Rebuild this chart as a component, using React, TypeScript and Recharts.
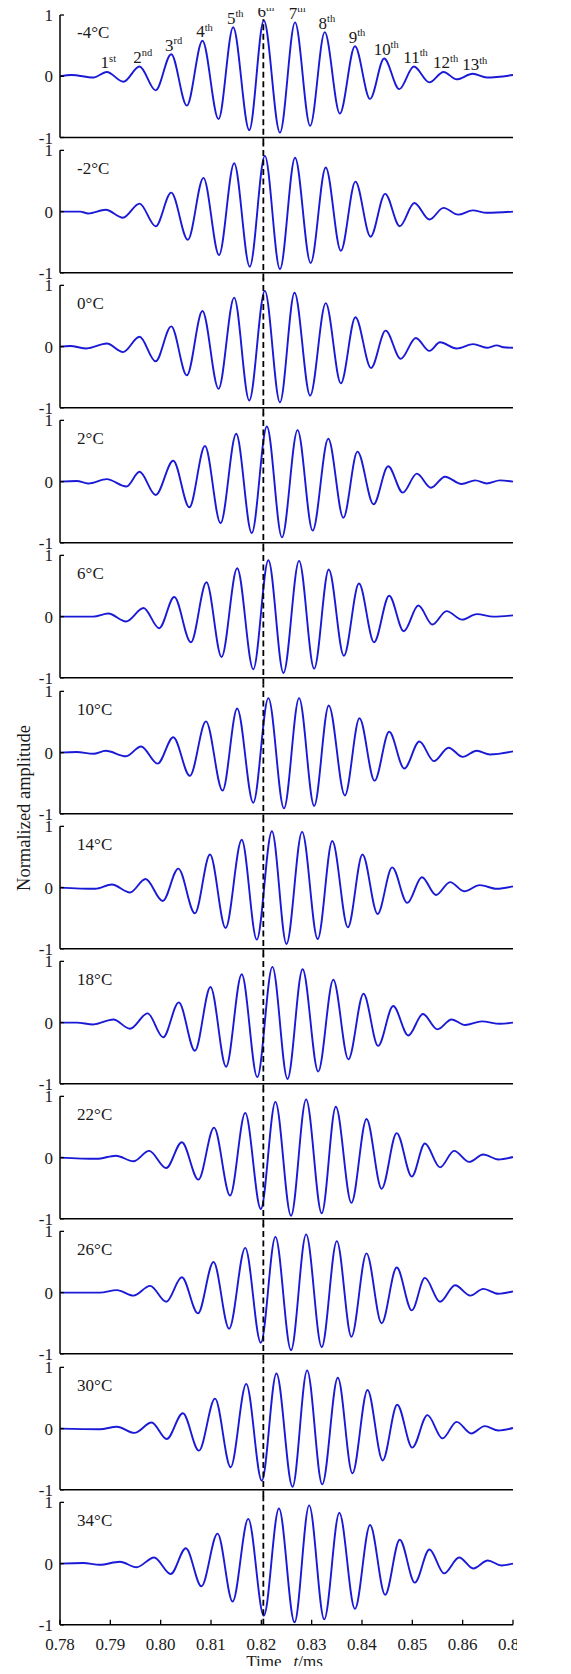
import { LineChart, Line, XAxis, YAxis, ReferenceLine, ReferenceDot, LabelList } from 'recharts';

const FONT = '"Liberation Serif", "Times New Roman", Times, serif';
const WAVE = '#1a1ad6';
const INK = '#1a1a1a';

const TEMPS = ['-4°C', '-2°C', '0°C', '2°C', '6°C', '10°C', '14°C', '18°C', '22°C', '26°C', '30°C', '34°C'];
const ORDINALS = ['1st', '2nd', '3rd', '4th', '5th', '6th', '7th', '8th', '9th', '10th', '11th', '12th', '13th'];
const X_TICKS = [0.78, 0.79, 0.8, 0.81, 0.82, 0.83, 0.84, 0.85, 0.86, 0.87];
const Y_TICKS = [-1, 0, 1];
const SHIFT_T = 0.8204; // dashed marker through the 6th peak at -4°C

// extrema of each trace (time in ms, normalized amplitude)
const T_M4 = [0.78, 0.7823, 0.7866, 0.7893, 0.7926, 0.7958, 0.799, 0.8021, 0.8052, 0.8083, 0.8115, 0.8144, 0.8176, 0.8205, 0.8237, 0.8267, 0.8297, 0.8326, 0.8356, 0.8386, 0.8416, 0.8444, 0.8474, 0.8503, 0.8534, 0.8562, 0.8588, 0.862, 0.8648, 0.87];
const A_M4 = [0, 0.02, -0.02, 0.07, -0.09, 0.16, -0.23, 0.36, -0.48, 0.58, -0.7, 0.8, -0.88, 0.91, -0.92, 0.88, -0.81, 0.72, -0.61, 0.49, -0.37, 0.29, -0.21, 0.16, -0.1, 0.07, -0.05, 0.04, -0.02, 0.02];

const T_M2 = [0.78, 0.784, 0.7856, 0.7891, 0.7925, 0.7958, 0.799, 0.8021, 0.8054, 0.8085, 0.8116, 0.8146, 0.8177, 0.8207, 0.8237, 0.8267, 0.8298, 0.8328, 0.8358, 0.8387, 0.8417, 0.8446, 0.8475, 0.8504, 0.8534, 0.8562, 0.8591, 0.862, 0.8648, 0.87];
const A_M2 = [0, 0, -0.03, 0.03, -0.1, 0.13, -0.24, 0.31, -0.46, 0.55, -0.71, 0.79, -0.9, 0.91, -0.94, 0.88, -0.84, 0.72, -0.64, 0.49, -0.41, 0.29, -0.24, 0.14, -0.13, 0.06, -0.05, 0.02, -0.02, 0];

const T_0 = [0.78, 0.782, 0.7853, 0.7893, 0.7925, 0.7958, 0.799, 0.8021, 0.8052, 0.8083, 0.8115, 0.8146, 0.8176, 0.8207, 0.8237, 0.8266, 0.8297, 0.8328, 0.8358, 0.8387, 0.8418, 0.8447, 0.8477, 0.8507, 0.8534, 0.8555, 0.8588, 0.8621, 0.8648, 0.8668, 0.8681, 0.87];
const A_0 = [0, 0.01, -0.03, 0.05, -0.09, 0.16, -0.24, 0.33, -0.47, 0.58, -0.69, 0.8, -0.88, 0.91, -0.91, 0.88, -0.8, 0.71, -0.6, 0.48, -0.35, 0.26, -0.2, 0.14, -0.07, 0.07, -0.03, 0.04, -0.02, 0.02, -0.01, -0.02];

const T_2 = [0.78, 0.7833, 0.7856, 0.7893, 0.7932, 0.7958, 0.799, 0.8025, 0.8057, 0.8088, 0.8119, 0.815, 0.8181, 0.8211, 0.8241, 0.8272, 0.8302, 0.8333, 0.8363, 0.8391, 0.8423, 0.8452, 0.8481, 0.8509, 0.8537, 0.8565, 0.8598, 0.8625, 0.8648, 0.8674, 0.87];
const A_2 = [0, 0.01, -0.03, 0.04, -0.08, 0.16, -0.22, 0.34, -0.42, 0.58, -0.68, 0.78, -0.84, 0.9, -0.91, 0.84, -0.8, 0.7, -0.59, 0.49, -0.37, 0.25, -0.18, 0.13, -0.1, 0.08, -0.04, 0.02, -0.03, 0.02, 0];

const T_6 = [0.78, 0.7866, 0.7896, 0.7931, 0.7966, 0.7997, 0.8027, 0.806, 0.8091, 0.8121, 0.8152, 0.8184, 0.8214, 0.8244, 0.8275, 0.8305, 0.8334, 0.8364, 0.8394, 0.8424, 0.8454, 0.8483, 0.8512, 0.854, 0.8568, 0.8599, 0.8628, 0.8661, 0.87];
const A_6 = [0, 0, 0.05, -0.08, 0.14, -0.19, 0.32, -0.42, 0.56, -0.66, 0.79, -0.86, 0.92, -0.92, 0.91, -0.85, 0.77, -0.64, 0.54, -0.42, 0.34, -0.24, 0.18, -0.13, 0.09, -0.05, 0.04, 0, 0.02];

const T_10 = [0.78, 0.7833, 0.7866, 0.7891, 0.7931, 0.7961, 0.7994, 0.8025, 0.8058, 0.809, 0.8123, 0.8152, 0.8184, 0.8214, 0.8245, 0.8275, 0.8305, 0.8334, 0.8366, 0.8395, 0.8425, 0.8454, 0.8484, 0.8514, 0.8543, 0.8572, 0.86, 0.8628, 0.8654, 0.87];
const A_10 = [0, 0.01, -0.02, 0.03, -0.06, 0.1, -0.18, 0.25, -0.38, 0.51, -0.62, 0.72, -0.82, 0.89, -0.91, 0.89, -0.87, 0.77, -0.7, 0.56, -0.46, 0.34, -0.26, 0.18, -0.14, 0.08, -0.07, 0.03, -0.03, 0.02];

const T_14 = [0.78, 0.787, 0.7903, 0.7939, 0.797, 0.8004, 0.8035, 0.8068, 0.8098, 0.8129, 0.8161, 0.8191, 0.8221, 0.825, 0.8281, 0.8312, 0.8341, 0.8372, 0.8401, 0.8431, 0.846, 0.849, 0.8519, 0.8547, 0.8575, 0.8603, 0.8634, 0.8668, 0.87];
const A_14 = [0, -0.02, 0.05, -0.08, 0.14, -0.22, 0.31, -0.42, 0.54, -0.66, 0.78, -0.85, 0.92, -0.92, 0.91, -0.84, 0.76, -0.65, 0.54, -0.43, 0.33, -0.25, 0.17, -0.12, 0.09, -0.06, 0.04, -0.02, 0.02];

const T_18 = [0.78, 0.7833, 0.7866, 0.7906, 0.7939, 0.7974, 0.8005, 0.8036, 0.8068, 0.8099, 0.813, 0.8161, 0.8192, 0.8222, 0.8252, 0.8282, 0.8313, 0.8343, 0.8373, 0.8403, 0.8432, 0.8462, 0.8492, 0.8521, 0.855, 0.8578, 0.8605, 0.8638, 0.8674, 0.87];
const A_18 = [0, 0, -0.03, 0.05, -0.1, 0.15, -0.24, 0.33, -0.46, 0.58, -0.72, 0.79, -0.89, 0.91, -0.92, 0.87, -0.8, 0.7, -0.6, 0.47, -0.38, 0.27, -0.21, 0.14, -0.11, 0.05, -0.04, 0.02, -0.02, 0];

const T_22 = [0.78, 0.7873, 0.7911, 0.7946, 0.7977, 0.8011, 0.8042, 0.8075, 0.8106, 0.8138, 0.8168, 0.8199, 0.8228, 0.8259, 0.8289, 0.832, 0.8348, 0.8379, 0.8409, 0.8439, 0.8469, 0.8499, 0.8525, 0.8555, 0.8583, 0.8613, 0.8641, 0.8671, 0.87];
const A_22 = [0, -0.02, 0.03, -0.06, 0.11, -0.17, 0.25, -0.36, 0.49, -0.62, 0.73, -0.84, 0.91, -0.95, 0.95, -0.91, 0.83, -0.74, 0.63, -0.51, 0.4, -0.31, 0.23, -0.16, 0.11, -0.07, 0.05, -0.03, 0.01];

const T_26 = [0.78, 0.7879, 0.7913, 0.7946, 0.7979, 0.8011, 0.8042, 0.8074, 0.8105, 0.8136, 0.8168, 0.8199, 0.8228, 0.8259, 0.8289, 0.832, 0.835, 0.8379, 0.8409, 0.8439, 0.8469, 0.8499, 0.8525, 0.8555, 0.8585, 0.8615, 0.8641, 0.8671, 0.87];
const A_26 = [0, 0, 0.04, -0.05, 0.11, -0.15, 0.25, -0.34, 0.5, -0.59, 0.73, -0.82, 0.91, -0.94, 0.95, -0.89, 0.84, -0.72, 0.64, -0.5, 0.41, -0.29, 0.24, -0.15, 0.12, -0.05, 0.06, -0.02, 0.02];

const T_30 = [0.78, 0.7879, 0.7913, 0.7948, 0.7982, 0.8012, 0.8044, 0.8076, 0.8108, 0.8139, 0.817, 0.8201, 0.823, 0.8262, 0.8291, 0.8321, 0.8352, 0.8381, 0.8411, 0.8441, 0.847, 0.85, 0.853, 0.856, 0.8588, 0.8617, 0.8644, 0.8671, 0.87];
const A_30 = [0, -0.01, 0.03, -0.07, 0.1, -0.17, 0.25, -0.36, 0.49, -0.63, 0.73, -0.85, 0.9, -0.95, 0.95, -0.91, 0.83, -0.73, 0.63, -0.52, 0.39, -0.31, 0.22, -0.16, 0.11, -0.08, 0.04, -0.03, 0.01];

const T_34 = [0.78, 0.7846, 0.7879, 0.7919, 0.7952, 0.7987, 0.802, 0.805, 0.8081, 0.8113, 0.8143, 0.8174, 0.8205, 0.8235, 0.8266, 0.8295, 0.8325, 0.8355, 0.8386, 0.8416, 0.8446, 0.8475, 0.8505, 0.8534, 0.8563, 0.8593, 0.8621, 0.865, 0.8677, 0.87];
const A_34 = [0, 0.01, -0.02, 0.03, -0.06, 0.1, -0.17, 0.25, -0.37, 0.49, -0.62, 0.73, -0.85, 0.9, -0.96, 0.95, -0.91, 0.83, -0.74, 0.63, -0.51, 0.39, -0.31, 0.23, -0.16, 0.1, -0.08, 0.05, -0.03, 0];

const TIMES = [T_M4, T_M2, T_0, T_2, T_6, T_10, T_14, T_18, T_22, T_26, T_30, T_34];
const AMPS = [A_M4, A_M2, A_0, A_2, A_6, A_10, A_14, A_18, A_22, A_26, A_30, A_34];

// layout (px)
const W = 517;
const PLOT_H = 122.5;
const GAP = 6.35;
const TOP_FIRST = 15;
const AXIS_LAST = 49.3;

function buildRows(times: number[], amps: number[], tagged: boolean) {
  let n = 0;
  return times.map((t, i) => {
    const a = amps[i];
    const peak = tagged && i > 0 && i < amps.length - 1 && a > amps[i - 1] && a > amps[i + 1] && a > 0.03;
    return { t, a, tag: peak ? ORDINALS[n++] : undefined };
  });
}

const renderOrdinal = (p: any) => {
  if (!p.value) return null;
  const x = p.x ?? p.viewBox?.x;
  const y = p.y ?? p.viewBox?.y;
  const m = String(p.value).match(/^(\d+)(\D+)$/);
  if (!m) return null;
  const numW = m[1].length * 8.5;
  return (
    <text x={x - 2 - numW / 2} y={y - 3.5} fontSize={17} fill={INK}>
      <tspan>{m[1]}</tspan>
      <tspan dy={-6.5} fontSize={10.5}>{m[2]}</tspan>
    </text>
  );
};

const tempTag = (text: string) => (p: any) => {
  const vb = p.viewBox || {};
  return (
    <text x={vb.x} y={vb.y} fontSize={17} fill={INK}>
      {text}
    </text>
  );
};

function Panel({ idx }: { idx: number }) {
  const first = idx === 0;
  const last = idx === TEMPS.length - 1;
  const top = first ? TOP_FIRST : GAP;
  const bottom = last ? AXIS_LAST : GAP;
  const rows = buildRows(TIMES[idx], AMPS[idx], first);
  const lo = last ? -1 : -1.11;
  const hi = first ? 0.93 : 1.11;

  return (
    <LineChart
      className={last ? 'panel-last' : 'panel-open'}
      width={W}
      height={top + PLOT_H + bottom}
      data={rows}
      margin={{ top, right: 4, bottom: 0, left: 0 }}
    >
      <XAxis
        dataKey="t"
        type="number"
        domain={[0.78, 0.87]}
        ticks={X_TICKS}
        interval={0}
        height={bottom}
        tickSize={-5}
        tickMargin={18}
        tick={last ? { fontSize: 17, fill: INK } : false}
        tickFormatter={(v: number) => v.toFixed(2)}
        axisLine={{ stroke: '#000', strokeWidth: 1.5 }}
        tickLine={{ stroke: '#000', strokeWidth: 1.3 }}
      />
      <YAxis
        type="number"
        domain={[-1, 1]}
        ticks={Y_TICKS}
        interval={0}
        width={60}
        tickSize={-4}
        tickMargin={11}
        tick={{ fontSize: 17, fill: INK }}
        axisLine={{ stroke: '#000', strokeWidth: 1.5 }}
        tickLine={{ stroke: '#000', strokeWidth: 1.3 }}
      />
      <ReferenceDot x={0.7834} y={0.62} r={0} fill="none" stroke="none" label={tempTag(TEMPS[idx])} />
      <Line
        dataKey="a"
        type="monotone"
        stroke={WAVE}
        strokeWidth={1.9}
        dot={false}
        isAnimationActive={false}
      >
        {first && <LabelList dataKey="tag" content={renderOrdinal} />}
      </Line>
      <ReferenceLine
        segment={[{ x: SHIFT_T, y: lo }, { x: SHIFT_T, y: hi }]}
        stroke="#000"
        strokeWidth={1.8}
        strokeDasharray="6 3.5"
        ifOverflow="visible"
      />
    </LineChart>
  );
}

export default function App() {
  return (
    <div style={{ position: 'relative', margin: -8, width: 571, height: 1674, overflow: 'hidden', fontFamily: FONT }}>
      <style>{`
        html, body { overflow: hidden; }
        svg text { font-family: ${FONT}; }
        .panel-open .recharts-surface { overflow: visible; }
      `}</style>
      {TEMPS.map((_, i) => (
        <Panel key={i} idx={i} />
      ))}
      <div
        style={{
          position: 'absolute',
          left: 24,
          top: 808,
          transform: 'translate(-50%, -50%) rotate(-90deg)',
          whiteSpace: 'nowrap',
          fontSize: 18.5,
          color: INK,
          lineHeight: 1,
        }}
      >
        Normalized amplitude
      </div>
      <div
        style={{
          position: 'absolute',
          left: 58,
          width: 453,
          top: 1653,
          textAlign: 'center',
          fontSize: 17,
          lineHeight: '17px',
          color: INK,
          whiteSpace: 'nowrap',
        }}
      >
        Time<span style={{ marginLeft: 12, fontStyle: 'italic' }}>t</span>/ms
      </div>
    </div>
  );
}
